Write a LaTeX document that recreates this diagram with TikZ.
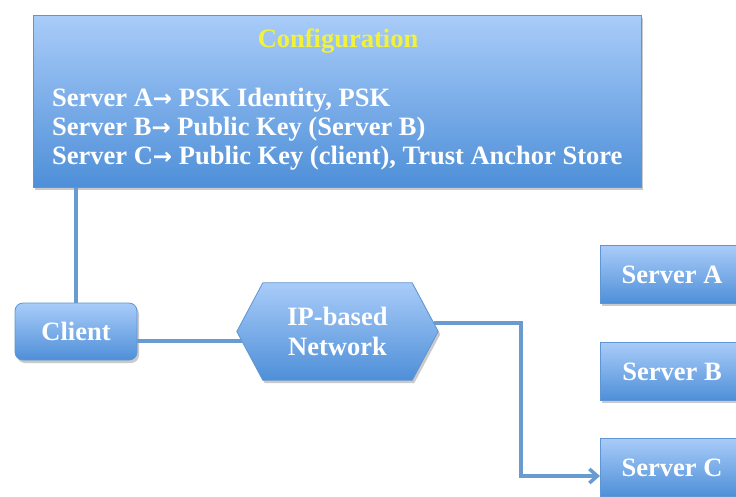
\documentclass[tikz,border=0pt]{standalone}
\usepackage{fontspec}
\setmainfont{Liberation Serif}
\newfontfamily\arrowfont{DejaVu Sans}
\usetikzlibrary{shadows,arrows.meta,calc}
\definecolor{boxtop}{HTML}{A9CCF9}
\definecolor{boxbot}{HTML}{4E8FD8}
\definecolor{boxline}{HTML}{5E95D2}
\definecolor{wire}{HTML}{6A9BD0}
\definecolor{titleyellow}{HTML}{F2F23A}
\newcommand{\labelfont}{\bfseries\fontsize{26.5}{29}\selectfont}
\tikzset{
  bluefill/.style={draw=boxline, line width=0.8pt, top color=boxtop, bottom color=boxbot,
    drop shadow={shadow xshift=2pt, shadow yshift=-3pt, opacity=0.35, fill=black!60}},
  bluebox/.style={bluefill, text=white, font=\labelfont, inner sep=0pt},
  serverbox/.style={bluebox, minimum width=150pt, minimum height=58pt, anchor=north west},
  boxlabel/.style={text=white, font=\labelfont, inner sep=0pt},
  wire/.style={draw=wire, line width=3.5pt},
  arrowwire/.style={wire, -{Straight Barb[length=8pt, width=14pt, line width=3.5pt]}}
}
\newcommand{\cfgarrow}{{\arrowfont\bfseries\fontsize{23}{29}\selectfont →}}
\begin{document}
\begin{tikzpicture}[x=1pt, y=-1pt]
\useasboundingbox (0,0) rectangle (736,496);

% configuration panel
\node[bluebox, minimum width=608pt, minimum height=172pt, anchor=north west] (cfg) at (33,15) {};
\node[boxlabel, text=titleyellow] (cfgtitle) at (338,41) {Configuration};
\node[boxlabel, align=left, anchor=west] (cfgtext) at (52,129)
  {Server A\cfgarrow{} PSK Identity, PSK\\
   Server B\cfgarrow{} Public Key (Server B)\\
   Server C\cfgarrow{} Public Key (client), Trust Anchor Store};

% client
\node[bluebox, rounded corners=8pt, minimum width=122pt, minimum height=57pt] (client) at (76,331.5) {Client};

% network: an elongated hexagon drawn round the frame of its label node
\node[minimum width=201pt, minimum height=97pt, inner sep=0pt] (net) at (337.5,331.5) {};
\path[bluefill] (net.west) -- ([xshift=26pt]net.north west) -- ([xshift=-26pt]net.north east)
  -- (net.east) -- ([xshift=-26pt]net.south east) -- ([xshift=26pt]net.south west) -- cycle;
\node[boxlabel, align=center, font=\bfseries\fontsize{26.5}{30}\selectfont] (netlabel) at (net.center) {IP-based\\Network};

% servers
\node[serverbox] (sa) at (600,245) {};
\node[boxlabel] (salabel) at (672,275) {Server A};
\node[serverbox] (sb) at (600,342) {};
\node[boxlabel] (sblabel) at (672,372) {Server B};
\node[serverbox] (sc) at (600,438) {};
\node[boxlabel] (sclabel) at (672,468) {Server C};

% connectors
\draw[wire] (client.north) -- (client.north |- cfg.south);
\draw[wire] ([yshift=-9.5pt]client.east) -- ([xshift=5pt,yshift=-9.5pt]net.west);
\coordinate (bend) at (521,476);
\draw[arrowwire] ([yshift=8.5pt,xshift=-4pt]net.east) -| (bend) -- (bend -| sc.west);
\end{tikzpicture}
\end{document}
